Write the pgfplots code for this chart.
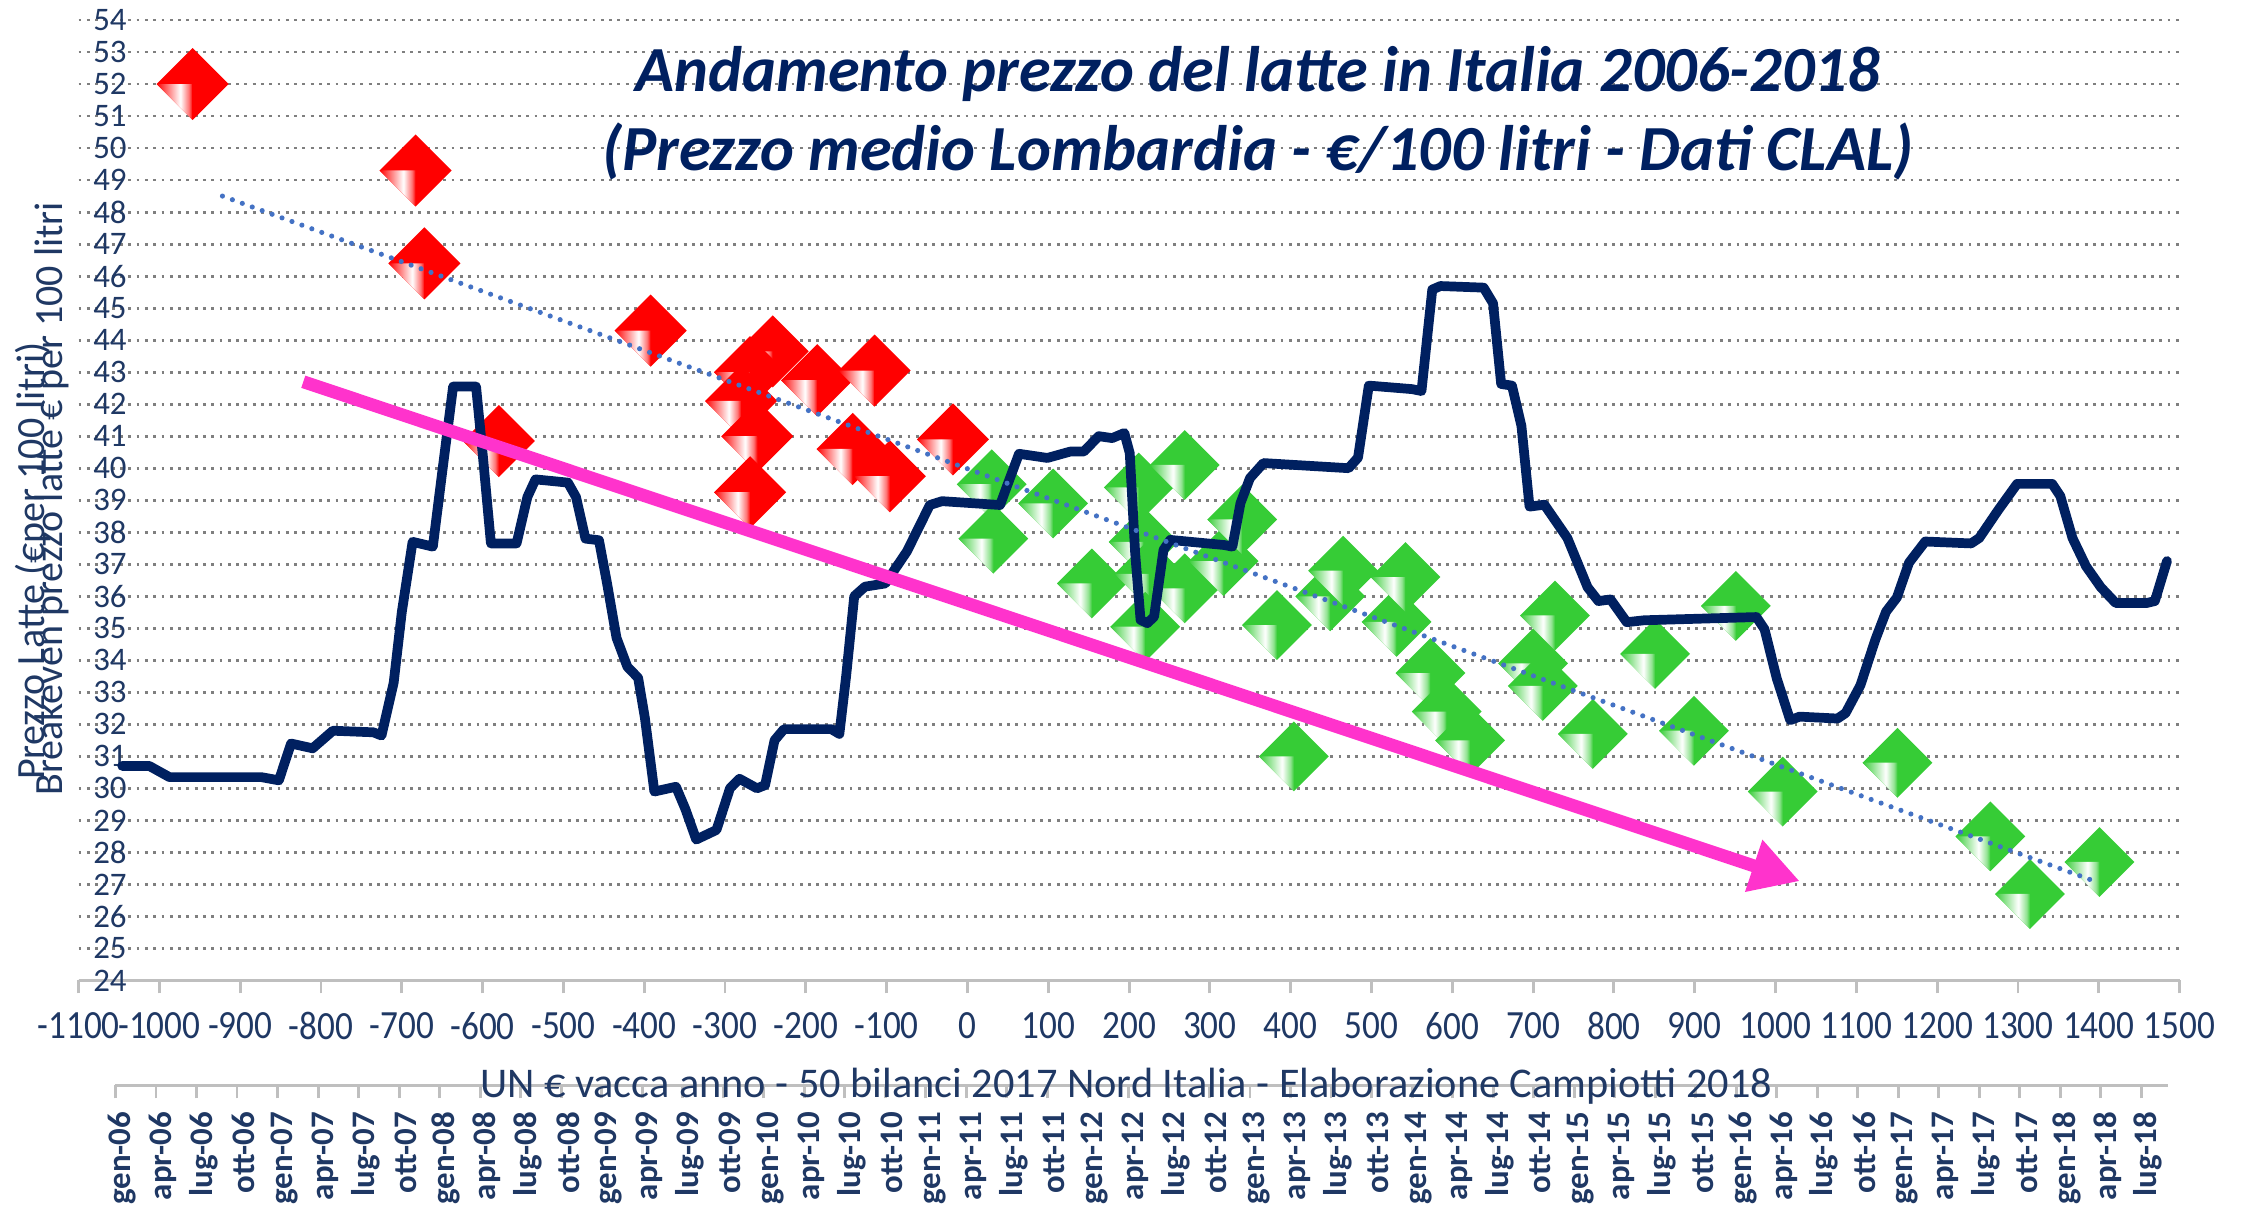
\documentclass[border=0pt]{standalone}
\usepackage{fontspec}
\setmainfont{Carlito}
\usepackage{graphicx}
\usepackage{pgfplots}
\pgfplotsset{compat=1.18}
\usetikzlibrary{arrows.meta}

\definecolor{navy}{HTML}{002060}
\definecolor{ticknavy}{HTML}{1F3864}
\definecolor{mkred}{HTML}{FF0000}
\definecolor{mkgreen}{HTML}{36CC36}
\definecolor{magarrow}{HTML}{FF33CC}
\definecolor{trendblue}{HTML}{4472C4}
\definecolor{gridgray}{HTML}{7F7F7F}
\definecolor{axgray}{HTML}{BFBFBF}

\pgfdeclarehorizontalshading{gfacet}{100bp}{color(0bp)=(mkgreen); color(25bp)=(mkgreen); color(58bp)=(white); color(70bp)=(mkgreen!55!white); color(75bp)=(mkgreen); color(100bp)=(mkgreen)}
\pgfdeclarehorizontalshading{rfacet}{100bp}{color(0bp)=(mkred); color(25bp)=(mkred); color(58bp)=(white); color(70bp)=(mkred!55!white); color(75bp)=(mkred); color(100bp)=(mkred)}

\pgfdeclareplotmark{gdia}{%
  \pgfpathmoveto{\pgfqpoint{0pt}{\pgfplotmarksize}}%
  \pgfpathlineto{\pgfqpoint{\pgfplotmarksize}{0pt}}%
  \pgfpathlineto{\pgfqpoint{0pt}{-\pgfplotmarksize}}%
  \pgfpathlineto{\pgfqpoint{-\pgfplotmarksize}{0pt}}%
  \pgfpathclose
  \pgfsetfillcolor{mkgreen}%
  \pgfusepath{fill}%
  \pgfpathmoveto{\pgfqpoint{-\pgfplotmarksize}{0pt}}%
  \pgfpathlineto{\pgfqpoint{0pt}{0pt}}%
  \pgfpathlineto{\pgfqpoint{0pt}{-\pgfplotmarksize}}%
  \pgfpathclose
  \pgfshadepath{gfacet}{0}%
  \pgfusepath{discard}%
}
\pgfdeclareplotmark{rdia}{%
  \pgfpathmoveto{\pgfqpoint{0pt}{\pgfplotmarksize}}%
  \pgfpathlineto{\pgfqpoint{\pgfplotmarksize}{0pt}}%
  \pgfpathlineto{\pgfqpoint{0pt}{-\pgfplotmarksize}}%
  \pgfpathlineto{\pgfqpoint{-\pgfplotmarksize}{0pt}}%
  \pgfpathclose
  \pgfsetfillcolor{mkred}%
  \pgfusepath{fill}%
  \pgfpathmoveto{\pgfqpoint{-\pgfplotmarksize}{0pt}}%
  \pgfpathlineto{\pgfqpoint{0pt}{0pt}}%
  \pgfpathlineto{\pgfqpoint{0pt}{-\pgfplotmarksize}}%
  \pgfpathclose
  \pgfshadepath{rfacet}{0}%
  \pgfusepath{discard}%
}

\begin{document}
\begin{tikzpicture}
\path[use as bounding box] (-27.5pt,-79.5pt) rectangle (756.5pt,343pt);

% ---------- scatter axis ----------
\begin{axis}[
  at={(0pt,0pt)}, anchor=south west,
  scale only axis, width=735pt, height=336pt,
  xmin=-1100, xmax=1500, ymin=24, ymax=54,
  xtick={-1100,-1000,...,1500}, ytick={24,25,...,54},
  separate axis lines,
  axis x line*=bottom, axis y line*=left,
  y axis line style={draw=none},
  x axis line style={axgray, line width=1pt, -},
  ytick style={draw=none},
  xtick style={axgray, line width=1pt},
  tick align=outside, major tick length=4.5pt,
  ymajorgrids,
  major grid style={gridgray, line width=1pt, dash pattern=on 1pt off 1.9pt},
  /pgf/number format/assume math mode=true,
  /pgf/number format/1000 sep={},
  yticklabel style={font=\fontsize{11.5}{11.5}\selectfont, text=ticknavy, anchor=east, inner sep=0pt, xshift=21.5pt},
  xticklabel style={font=\fontsize{14}{14}\selectfont, text=ticknavy, anchor=north, inner sep=0pt},
  xticklabel={\scalebox{0.88}[1]{\pgfmathprintnumber{\tick}}},
  xticklabel shift=6.5pt,
  clip=false,
]
\addplot[only marks, mark=rdia, mark size=12.6pt] coordinates {
(-959,52.0) (-683,49.3) (-672,46.4) (-392,44.3) (-580,40.85)
(-241,43.65) (-269,43.0) (-280,42.1) (-260,41.0) (-269,39.25)
(-186,42.75) (-115,43.05) (-142,40.6) (-96,39.75) (-18,40.9)
};
\addplot[only marks, mark=gdia, mark size=12.2pt] coordinates {
(30,39.5) (32,37.8) (106,38.9) (154,36.4) (212,39.4) (218,37.7)
(225,36.7) (220,35.05) (269,36.25) (269,40.1) (317,37.1) (340,38.4)
(383,35.1) (404,31.0) (449,36.0) (465,36.8) (531,35.2) (542,36.6)
(573,33.6) (593,32.4) (622,31.5) (700,33.9) (712,33.2) (727,35.4)
(774,31.7) (851,34.2) (899,31.8) (951,35.7) (1009,29.9) (1151,30.8)
(1266,28.5) (1315,26.7) (1401,27.7)
};
\end{axis}

% ---------- monthly price line ----------
\begin{axis}[
  at={(0pt,0pt)}, anchor=south west,
  scale only axis, width=735pt, height=336pt,
  xmin=-3.228, xmax=152.33, ymin=24, ymax=54,
  hide axis, clip=false,
]
\addplot[navy, line width=3.4pt, line join=round, line cap=round] coordinates {
(0,30.7) (2,30.7) (3.5,30.35) (10.3,30.35) (11.6,30.25) (12.5,31.4)
(14.1,31.25) (15.6,31.8) (18.6,31.75) (19.2,31.65) (20.1,33.3) (20.7,35.5)
(21.5,37.7) (23.0,37.55) (23.7,39.9) (24.5,42.55) (26.2,42.55) (26.7,40.4)
(27.3,37.65) (29.2,37.65) (30.0,39.1) (30.6,39.65) (33.0,39.55) (33.6,39.1)
(34.3,37.8) (35.3,37.75) (35.9,36.4) (36.6,34.7) (37.4,33.8) (38.2,33.45)
(38.7,32.2) (39.4,29.9) (41.0,30.05) (41.7,29.35) (42.5,28.4) (44.0,28.7)
(45.0,30.0) (45.7,30.3) (47.0,30.0) (47.6,30.1) (48.3,31.5) (49.0,31.85)
(52.5,31.85) (53.1,31.7) (53.6,33.5) (54.2,36.0) (55.0,36.3) (56.5,36.4)
(58.1,37.4) (59.8,38.85) (60.7,38.97) (65.0,38.85) (65.5,39.43) (66.4,40.45)
(68.5,40.32) (70.2,40.52) (71.2,40.52) (72.3,41.0) (73.3,40.94) (74.2,41.1)
(74.6,40.47) (75.0,37.35) (75.4,35.26) (75.9,35.16) (76.4,35.36) (77.1,37.45)
(77.6,37.76) (81.6,37.6) (82.2,37.55) (82.8,38.91) (83.5,39.69) (84.5,40.16)
(90.8,40.0) (91.5,40.33) (92.3,42.58) (95.5,42.47) (96.2,42.41) (97.0,45.58)
(97.6,45.69) (100.8,45.64) (101.5,45.15) (102.1,42.63) (102.9,42.58) (103.6,41.32)
(104.2,38.8) (105.3,38.86) (107.0,37.82) (108.5,36.28) (109.3,35.85) (110.2,35.9)
(111.4,35.19) (112.7,35.25) (121.0,35.35) (121.6,34.97) (122.5,33.44) (123.5,32.13)
(124.2,32.24) (127.0,32.18) (127.6,32.35) (128.7,33.22) (129.8,34.64) (130.6,35.52)
(131.4,35.96) (132.3,37.05) (133.5,37.71) (136.9,37.65) (137.5,37.82) (138.9,38.69)
(140.3,39.51) (142.9,39.51) (143.5,39.13) (144.4,37.82) (145.4,36.94) (146.5,36.28)
(147.6,35.79) (149.9,35.79) (150.5,35.85) (151.4,37.1)
};
\end{axis}

% ---------- trend line and arrow ----------
\begin{axis}[
  at={(0pt,0pt)}, anchor=south west,
  scale only axis, width=735pt, height=336pt,
  xmin=-1100, xmax=1500, ymin=24, ymax=54,
  hide axis, clip=false,
]
\addplot[trendblue, line width=1.8pt, line cap=round, dash pattern=on 0pt off 3.7pt] coordinates {(-922,48.5) (1398,27.07)};
\addplot[magarrow, line width=4.5pt, -{Triangle[length=17pt,width=18pt]}] coordinates {(-822,42.7) (1030,27.1)};
\end{axis}

% ---------- month axis ----------
\begin{axis}[
  at={(12.9pt,-36.75pt)}, anchor=south west,
  scale only axis, width=718.2pt, height=10pt,
  xmin=-0.5, xmax=151.5, ymin=0, ymax=1,
  axis x line*=bottom, axis y line=none,
  x axis line style={axgray, line width=1pt, -},
  xtick={0,3,...,150},
  xticklabels={gen-06,apr-06,lug-06,ott-06,gen-07,apr-07,lug-07,ott-07,gen-08,apr-08,lug-08,ott-08,gen-09,apr-09,lug-09,ott-09,gen-10,apr-10,lug-10,ott-10,gen-11,apr-11,lug-11,ott-11,gen-12,apr-12,lug-12,ott-12,gen-13,apr-13,lug-13,ott-13,gen-14,apr-14,lug-14,ott-14,gen-15,apr-15,lug-15,ott-15,gen-16,apr-16,lug-16,ott-16,gen-17,apr-17,lug-17,ott-17,gen-18,apr-18,lug-18},
  minor xtick={-0.5,2.5,...,149.5},
  tick align=outside, major tick length=0pt, minor tick length=4.5pt,
  xtick style={axgray, line width=1pt},
  minor tick style={axgray, line width=1pt},
  xticklabel style={rotate=90, anchor=east, inner sep=0pt, font=\bfseries\fontsize{11.5}{11.5}\selectfont, text=ticknavy},
  xticklabel shift=9pt,
  clip=false,
]
\addplot[draw=none] coordinates {(0,0)};
\end{axis}

% ---------- texts ----------
\node[anchor=base, text=navy, font=\fontsize{22.5}{27}\selectfont\bfseries\itshape] at (412.5pt,311pt) {Andamento prezzo del latte in Italia 2006-2018};
\node[anchor=base, text=navy, font=\fontsize{22.5}{27}\selectfont\bfseries\itshape] at (412.5pt,283.5pt) {(Prezzo medio Lombardia - €/100 litri - Dati CLAL)};
\node[anchor=base, text=ticknavy, font=\fontsize{14.8}{14.8}\selectfont, inner sep=0pt] at (366.5pt,-41pt) {UN € vacca anno - 50 bilanci 2017 Nord Italia -  Elaborazione Campiotti 2018};
\node[rotate=90, anchor=base west, text=ticknavy, font=\fontsize{14}{14}\selectfont, inner sep=0pt] at (-12pt,70pt) {Prezzo Latte (€per 100 litri)};
\node[rotate=90, anchor=base west, text=ticknavy, font=\fontsize{14}{14}\selectfont, inner sep=0pt] at (-5.5pt,64.5pt) {Breakeven prezzo latte € per 100 litri};
\end{tikzpicture}
\end{document}
